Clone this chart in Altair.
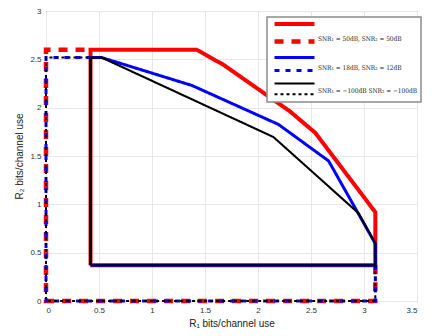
import altair as alt
import pandas as pd

# ---- data ----
series = ["red_solid", "red_dash", "blue_solid", "blue_dash", "black_solid", "black_dash"]

red_solid_x = [0.42, 0.42, 1.42, 1.675, 2.30, 2.54, 2.93, 3.107, 3.107, 0.42]
red_solid_y = [0.37, 2.60, 2.60, 2.443, 1.963, 1.74, 1.175, 0.918, 0.37, 0.37]

red_dash_x = [3.107, 3.107, 0.0, 0.0, 0.42]
red_dash_y = [0.37, 0.0, 0.0, 2.60, 2.60]

blue_solid_x = [0.42, 0.42, 0.526, 1.376, 2.194, 2.666, 3.107, 3.107, 0.42]
blue_solid_y = [0.37, 2.518, 2.518, 2.23, 1.826, 1.449, 0.593, 0.37, 0.37]

blue_dash_x = [3.107, 3.107, 0.0, 0.0, 0.42]
blue_dash_y = [0.37, 0.0, 0.0, 2.518, 2.518]

black_solid_x = [0.42, 0.42, 0.526, 2.146, 2.95, 3.107, 3.107, 0.42]
black_solid_y = [0.37, 2.518, 2.518, 1.696, 0.907, 0.593, 0.37, 0.37]

black_dash_x = [3.107, 3.107, 0.0, 0.0, 0.42]
black_dash_y = [0.37, 0.0, 0.0, 2.518, 2.518]

# each label belongs to a solid/dashed pair and sits between the two lines
legend_labels = {
    "red_dash": "SNR\u2081 = 50dB, SNR\u2082 = 50dB",
    "blue_dash": "SNR\u2081 = 18dB, SNR\u2082 = 12dB",
    "black_dash": "SNR\u2081 = \u2212100dB SNR\u2082 = \u2212100dB",
}

x_ticks = [0, 0.5, 1, 1.5, 2, 2.5, 3, 3.5]
y_ticks = [0, 0.5, 1, 1.5, 2, 2.5, 3]

colors = ["#ff0000", "#ff0000", "#0000ff", "#0000ff", "#000000", "#000000"]
dashes = [[1, 0], [9, 8], [1, 0], [5, 6], [1, 0], [3, 3]]
widths = [4, 4.5, 3, 3, 2.1, 2]

# ---- build table ----
rows = []
for name, xs, ys in [
    ("red_solid", red_solid_x, red_solid_y),
    ("red_dash", red_dash_x, red_dash_y),
    ("blue_solid", blue_solid_x, blue_solid_y),
    ("blue_dash", blue_dash_x, blue_dash_y),
    ("black_solid", black_solid_x, black_solid_y),
    ("black_dash", black_dash_x, black_dash_y),
]:
    for i, (x, y) in enumerate(zip(xs, ys)):
        rows.append({"series": name, "i": i, "x": x, "y": y})
df = pd.DataFrame(rows)

label_expr = " : ".join(
    [f"datum.value == '{k}' ? '{v}'" for k, v in legend_labels.items()]
) + " : ''"

legend = alt.Legend(
    title=None,
    orient="none",
    legendX=221,
    legendY=6,
    symbolType="M0,0L20,0",
    symbolSize=16,
    rowPadding=0,
    labelExpr=label_expr,
    labelFont="DejaVu Serif Condensed",
    labelFontSize=6.5,
    labelColor="#222",
    labelBaseline="bottom",
    labelOffset=39,
    padding=3,
    fillColor="white",
    strokeColor="#8c8c8c",
)

base = alt.Chart(df)
layers = []
for s in series:
    layers.append(
        base.transform_filter(alt.datum.series == s)
        .mark_line(strokeCap="butt", strokeJoin="miter")
        .encode(
            x=alt.X(
                "x:Q",
                scale=alt.Scale(domain=[0, 3.5], nice=False),
                axis=alt.Axis(
                    values=x_ticks,
                    format="~g",
                    title="R\u2081 bits/channel use",
                    titlePadding=4,
                    labelPadding=5,
                ),
            ),
            y=alt.Y(
                "y:Q",
                scale=alt.Scale(domain=[0, 3], nice=False),
                axis=alt.Axis(
                    values=y_ticks,
                    format="~g",
                    title="R\u2082 bits/channel use",
                    titlePadding=5,
                    labelPadding=5,
                ),
            ),
            order="i:Q",
            color=alt.Color(
                "series:N",
                scale=alt.Scale(domain=series, range=colors),
                legend=legend,
            ),
            strokeDash=alt.StrokeDash(
                "series:N",
                scale=alt.Scale(domain=series, range=dashes),
                legend=legend,
            ),
            strokeWidth=alt.StrokeWidth(
                "series:N",
                scale=alt.Scale(type="ordinal", domain=series, range=widths),
                legend=legend,
            ),
        )
    )

chart = (
    alt.layer(*layers)
    .properties(
        width=371,
        height=290,
        autosize=alt.AutoSizeParams(type="none"),
        padding={"left": 38, "top": 3, "right": 5, "bottom": 31},
        background="white",
    )
    .configure_view(stroke="#555555", strokeWidth=1)
    .configure_legend(strokeWidth=1.5)
    .configure_axis(
        grid=True,
        gridColor="#e8e8e8",
        gridWidth=1,
        domain=False,
        ticks=False,
        labelFont="Liberation Sans",
        labelFontSize=8,
        labelColor="#333333",
        titleFont="Liberation Sans",
        titleFontSize=10,
        titleFontWeight="normal",
        titleColor="#222222",
    )
)

chart.save("out.html", embed_options={"renderer": "svg", "actions": False})
